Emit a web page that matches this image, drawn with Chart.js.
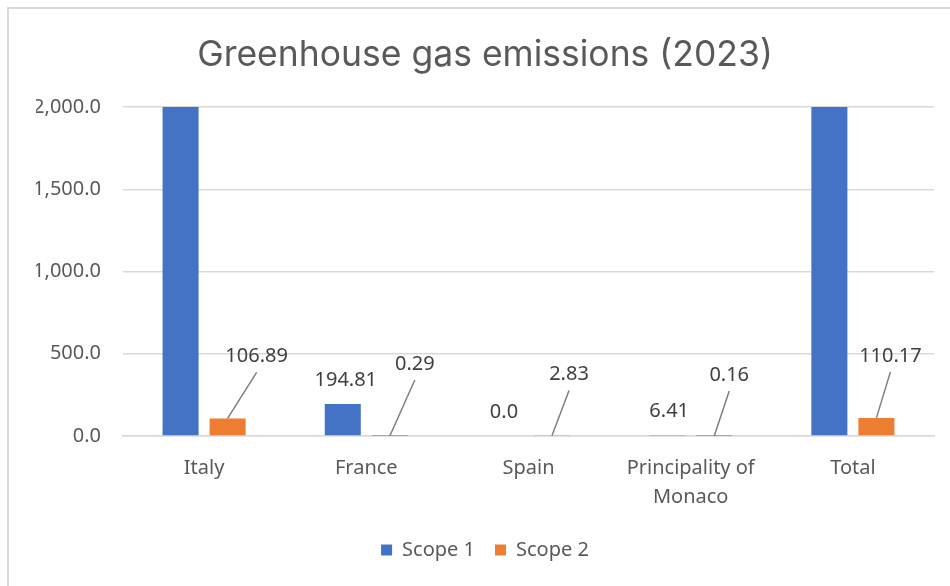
<!DOCTYPE html>
<html>
<head>
<meta charset="utf-8">
<script src="https://cdn.jsdelivr.net/npm/chart.js@4/dist/chart.umd.min.js"></script>
<style>
  html, body { margin: 0; padding: 0; background: #ffffff; }
  #wrap { width: 950px; height: 586px; position: relative; }
</style>
</head>
<body>
<div id="wrap"><canvas id="c" width="950" height="586"></canvas></div>
<script>
// ---- data ----
const categories = ['Italy', 'France', 'Spain', ['Principality of', 'Monaco'], 'Total'];
const seriesNames = ['Scope 1', 'Scope 2'];
// Scope 1 for Italy and Total exceed the 2,000 axis maximum (clipped in the reference); estimated
const scope1 = [2450.00, 194.81, 0.00, 6.41, 2651.22];
const scope2 = [106.89, 0.29, 2.83, 0.16, 110.17];
const yTicks = [0, 500, 1000, 1500, 2000];

// ---- label placement (pixel offsets from bar top centre), styling only ----
const labelPlacement = [
  [null, {dx: 3, dy: -24, leader: false}, {dx: -1, dy: -24, leader: false}, {dx: 2, dy: -24, leader: false}, null],
  [{dx: 29, dy: -62, leader: true}, {dx: 25, dy: -72, leader: true}, {dx: 17, dy: -61, leader: true}, {dx: 15, dy: -61, leader: true}, {dx: 14, dy: -62, leader: true}]
];

const FONT = "'Noto Sans', 'Open Sans', sans-serif";
const colors = ['#4472C4', '#ED7D31'];

function fmtLabel(v) { return v === 0 ? '0.0' : v.toFixed(2); }

const frame = {
  id: 'frame',
  beforeDraw(chart) {
    const ctx = chart.ctx;
    ctx.save();
    ctx.fillStyle = '#ffffff';
    ctx.fillRect(0, 0, chart.width, chart.height);
    ctx.fillStyle = '#d9d9d9';
    ctx.fillRect(7, 7, chart.width - 7, 2);
    ctx.fillRect(7, 7, 2, chart.height - 7);
    ctx.restore();
  }
};

const dataLabels = {
  id: 'dataLabels',
  afterDatasetsDraw(chart) {
    const ctx = chart.ctx;
    const area = chart.chartArea;
    ctx.save();
    ctx.font = "20px " + FONT;
    ctx.fillStyle = '#404040';
    ctx.textAlign = 'center';
    ctx.textBaseline = 'middle';
    chart.data.datasets.forEach((ds, di) => {
      const meta = chart.getDatasetMeta(di);
      meta.data.forEach((bar, i) => {
        const p = labelPlacement[di][i];
        if (!p) return;
        const top = Math.max(bar.y, area.top);
        const lx = bar.x + p.dx, ly = top + p.dy;
        if (p.leader) {
          ctx.strokeStyle = '#7f7f7f';
          ctx.lineWidth = 1.5;
          ctx.beginPath();
          ctx.moveTo(bar.x, top);
          ctx.lineTo(lx, ly + 16);
          ctx.stroke();
        }
        ctx.fillText(fmtLabel(ds.data[i]), lx, ly);
      });
    });
    ctx.restore();
  }
};

new Chart(document.getElementById('c'), {
  type: 'bar',
  data: {
    labels: categories,
    datasets: [
      { label: seriesNames[0], data: scope1, backgroundColor: colors[0] },
      { label: seriesNames[1], data: scope2, backgroundColor: colors[1] }
    ]
  },
  options: {
    responsive: false,
    animation: false,
    events: [],
    categoryPercentage: 0.58,
    barPercentage: 0.766,
    layout: { padding: { top: 34, left: 36, right: 16, bottom: 16 } },
    plugins: {
      title: {
        display: true,
        text: 'Greenhouse gas emissions (2023)',
        color: '#595959',
        font: { family: "Inter, 'Open Sans', sans-serif", size: 35.5, weight: 'normal', lineHeight: 1.2 },
        padding: { top: 0, bottom: 30.4 }
      },
      legend: {
        position: 'bottom',
        labels: {
          boxWidth: 11, boxHeight: 11, padding: 20,
          color: '#595959',
          font: { family: FONT, size: 20 }
        }
      },
      tooltip: { enabled: false }
    },
    scales: {
      x: {
        grid: { display: false, drawTicks: false },
        border: { display: true, color: '#d9d9d9', width: 1.5 },
        ticks: { color: '#595959', padding: 18, maxRotation: 0, autoSkip: false,
                 font: { family: FONT, size: 20, lineHeight: 1.45 } },
        afterFit(s) { s.height = 84; }
      },
      y: {
        min: 0, max: 2000,
        afterBuildTicks(s) { s.ticks = yTicks.map(v => ({ value: v })); },
        grid: { color: '#d9d9d9', lineWidth: 1.5, drawTicks: false },
        border: { display: false },
        ticks: {
          color: '#595959', padding: 22,
          font: { family: FONT, size: 20 },
          callback: v => v.toLocaleString('en-US', { minimumFractionDigits: 1, maximumFractionDigits: 1 })
        },
        afterFit(s) { s.width = 87; }
      }
    }
  },
  plugins: [frame, dataLabels]
});
</script>
</body>
</html>
